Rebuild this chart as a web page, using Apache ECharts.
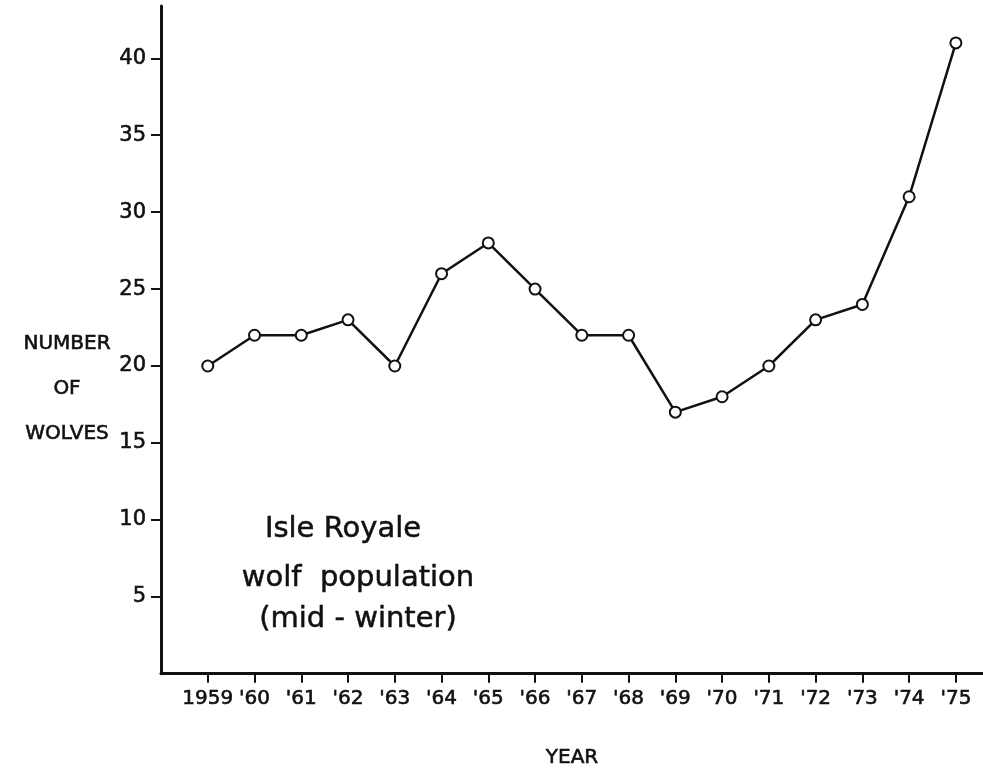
<!DOCTYPE html>
<html>
<head>
<meta charset="utf-8">
<title>Isle Royale wolf population</title>
<script src="https://cdn.jsdelivr.net/npm/echarts@6/dist/echarts.min.js"></script>
<style>
  html, body { margin: 0; padding: 0; background: #fff; }
  #chart { width: 983px; height: 773px; }
</style>
</head>
<body>
<div id="chart"></div>
<script>
// winter counts
const years = [1959, 1960, 1961, 1962, 1963, 1964, 1965, 1966, 1967, 1968, 1969, 1970, 1971, 1972, 1973, 1974, 1975];
const wolves = [20, 22, 22, 23, 20, 26, 28, 25, 22, 22, 17, 18, 20, 23, 24, 31, 41];
const yTicks = [5, 10, 15, 20, 25, 30, 35, 40];
const noteLines = ['Isle Royale', 'wolf  population', '(mid - winter)'];

const FONT = '"DejaVu Sans", sans-serif';
const INK = '#111';
// slight outline so the lettering reads as heavy as the pen lettering
const heavy = { textBorderColor: INK, textBorderWidth: 0.6 };

const yearLabel = (v) => (v === 1959 ? '1959' : "'" + String(v).slice(2));

const chart = echarts.init(document.getElementById('chart'), null, { renderer: 'canvas' });

chart.setOption({
  animation: false,
  backgroundColor: '#fff',
  title: {
    text: 'NUMBER\nOF\nWOLVES',
    left: 62,
    top: 316,
    textAlign: 'center',
    textStyle: Object.assign({ fontFamily: FONT, fontSize: 20, fontWeight: 'normal', color: INK, lineHeight: 45, align: 'center' }, heavy),
  },
  grid: { left: 161, right: 0, top: 6, bottom: 90 },
  xAxis: {
    type: 'value',
    min: 1958,
    max: 1975.58,
    name: 'YEAR',
    nameLocation: 'middle',
    nameGap: 74,
    nameTextStyle: Object.assign({ fontFamily: FONT, fontSize: 20, color: INK }, heavy),
    splitLine: { show: false },
    axisLine: { lineStyle: { color: INK, width: 3 } },
    axisTick: { customValues: years, length: 9, lineStyle: { color: INK, width: 2 } },
    axisLabel: Object.assign({
      customValues: years,
      formatter: yearLabel,
      margin: 15,
      fontFamily: FONT,
      fontSize: 20,
      color: INK,
    }, heavy),
  },
  yAxis: {
    type: 'value',
    min: 0,
    max: 43.4,
    splitLine: { show: false },
    axisLine: { lineStyle: { color: INK, width: 3 } },
    axisTick: { customValues: yTicks, length: 10, lineStyle: { color: INK, width: 2 } },
    axisLabel: Object.assign({
      customValues: yTicks,
      margin: 15,
      fontFamily: FONT,
      fontSize: 21,
      color: INK,
    }, heavy),
  },
  graphic: noteLines.map((t, i) => ({
    type: 'text',
    style: {
      text: t,
      x: i === 0 ? 343 : 358,
      y: [529, 578, 619][i],
      textAlign: 'center',
      textVerticalAlign: 'middle',
      font: '29px ' + FONT,
      fill: INK,
      stroke: INK,
      lineWidth: 0.5,
    },
  })),
  series: [
    {
      type: 'line',
      data: years.map((y, i) => [y, wolves[i]]),
      symbol: 'emptyCircle',
      symbolSize: 11,
      lineStyle: { color: INK, width: 2.5 },
      itemStyle: { color: INK, borderColor: INK, borderWidth: 2 },
      z: 3,
    },
  ],
});
</script>
</body>
</html>
